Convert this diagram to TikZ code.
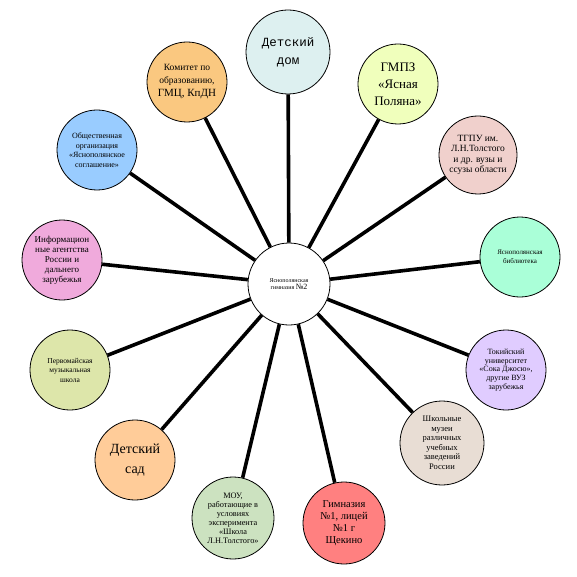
\documentclass[tikz,border=0pt]{standalone}
\usepackage{fontspec}
\setmainfont{Liberation Serif}
\newfontfamily\typefont{Liberation Mono}
\usetikzlibrary{backgrounds}
\definecolor{ink}{HTML}{000000}
\definecolor{cdom}{HTML}{DDF0F0}
\definecolor{cgmpz}{HTML}{F0FFBC}
\definecolor{ctgpu}{HTML}{F0D0CC}
\definecolor{clib}{HTML}{AAFFD8}
\definecolor{ctokyo}{HTML}{E0CCFF}
\definecolor{cmuseum}{HTML}{E8DDD4}
\definecolor{cgym}{HTML}{FF8080}
\definecolor{cmou}{HTML}{CCE2C0}
\definecolor{cgarden}{HTML}{FFCC99}
\definecolor{cmusic}{HTML}{DDE6AA}
\definecolor{cnews}{HTML}{F0AADC}
\definecolor{csociety}{HTML}{99CCFF}
\definecolor{ccommittee}{HTML}{FAC880}

\begin{document}
\begin{tikzpicture}[
  x=1pt,y=-1pt,
  partner/.style={circle,draw=ink,line width=.8pt,align=center,inner sep=0pt,minimum size=80pt},
  spoke/.style={draw=ink,line width=3.6pt}
]
\useasboundingbox (0,0) rectangle (577,577);
\node[partner,fill=white,minimum size=82pt,font=\fontsize{6}{7}\selectfont] (hub) at (289,284) {Яснополянская\\гимназия {\fontsize{8}{8}\selectfont №2}};

\node[partner,fill=cdom,minimum size=84pt,font=\typefont\fontsize{12.5}{18}\selectfont] (dom) at (288,52) {Детский\\дом};
\node[partner,fill=cgmpz,font=\fontsize{13}{17}\selectfont] (gmpz) at (398,84) {ГМПЗ\\«Ясная\\Поляна»};
\node[partner,fill=ctgpu,minimum size=78pt,font=\fontsize{9.5}{10.5}\selectfont] (tgpu) at (478,155) {ТГПУ им.\\Л.Н.Толстого\\и др. вузы и\\ссузы области};
\node[partner,fill=clib,font=\fontsize{7}{9}\selectfont] (library) at (520,257) {Яснополянская\\библиотека};
\node[partner,fill=ctokyo,font=\fontsize{8}{8.8}\selectfont] (tokyo) at (506,370) {Токийский\\университет\\«Сока Джосю»,\\другие ВУЗ\\зарубежья};
\node[partner,fill=cmuseum,minimum size=84pt,font=\fontsize{8.5}{9.5}\selectfont] (museum) at (442,443) {Школьные\\музеи\\различных\\учебных\\заведений\\России};
\node[partner,fill=cgym,minimum size=82pt,font=\fontsize{10.5}{12}\selectfont] (gymnasium) at (344,523) {Гимназия\\№1, лицей\\№1 г\\Щекино};
\node[partner,fill=cmou,minimum size=82pt,font=\fontsize{8.3}{9}\selectfont] (mou) at (233,518) {МОУ,\\работающие в\\условиях\\эксперимента\\«Школа\\Л.Н.Толстого»};
\node[partner,fill=cgarden,font=\fontsize{14}{20}\selectfont] (garden) at (135,460) {Детский\\сад};
\node[partner,fill=cmusic,font=\fontsize{7.5}{9.5}\selectfont] (music) at (70,370) {Первомайская\\музыкальная\\школа};
\node[partner,fill=cnews,font=\fontsize{9}{10}\selectfont] (news) at (62,260) {Информацион\\ные агентства\\России и\\дальнего\\зарубежья};
\node[partner,fill=csociety,font=\fontsize{8}{9.5}\selectfont] (society) at (97,150) {Общественная\\организация\\«Яснополянское\\соглашение»};
\node[partner,fill=ccommittee,font=\fontsize{9.5}{13}\selectfont] (committee) at (187,82) {Комитет по\\образованию,\\{\fontsize{11}{13}\selectfont ГМЦ, КпДН}};

\foreach \target in {dom,gmpz,tgpu,library,tokyo,museum,gymnasium,mou,garden,music,news,society,committee}
  \draw[spoke] (hub) -- (\target);
\end{tikzpicture}
\end{document}
